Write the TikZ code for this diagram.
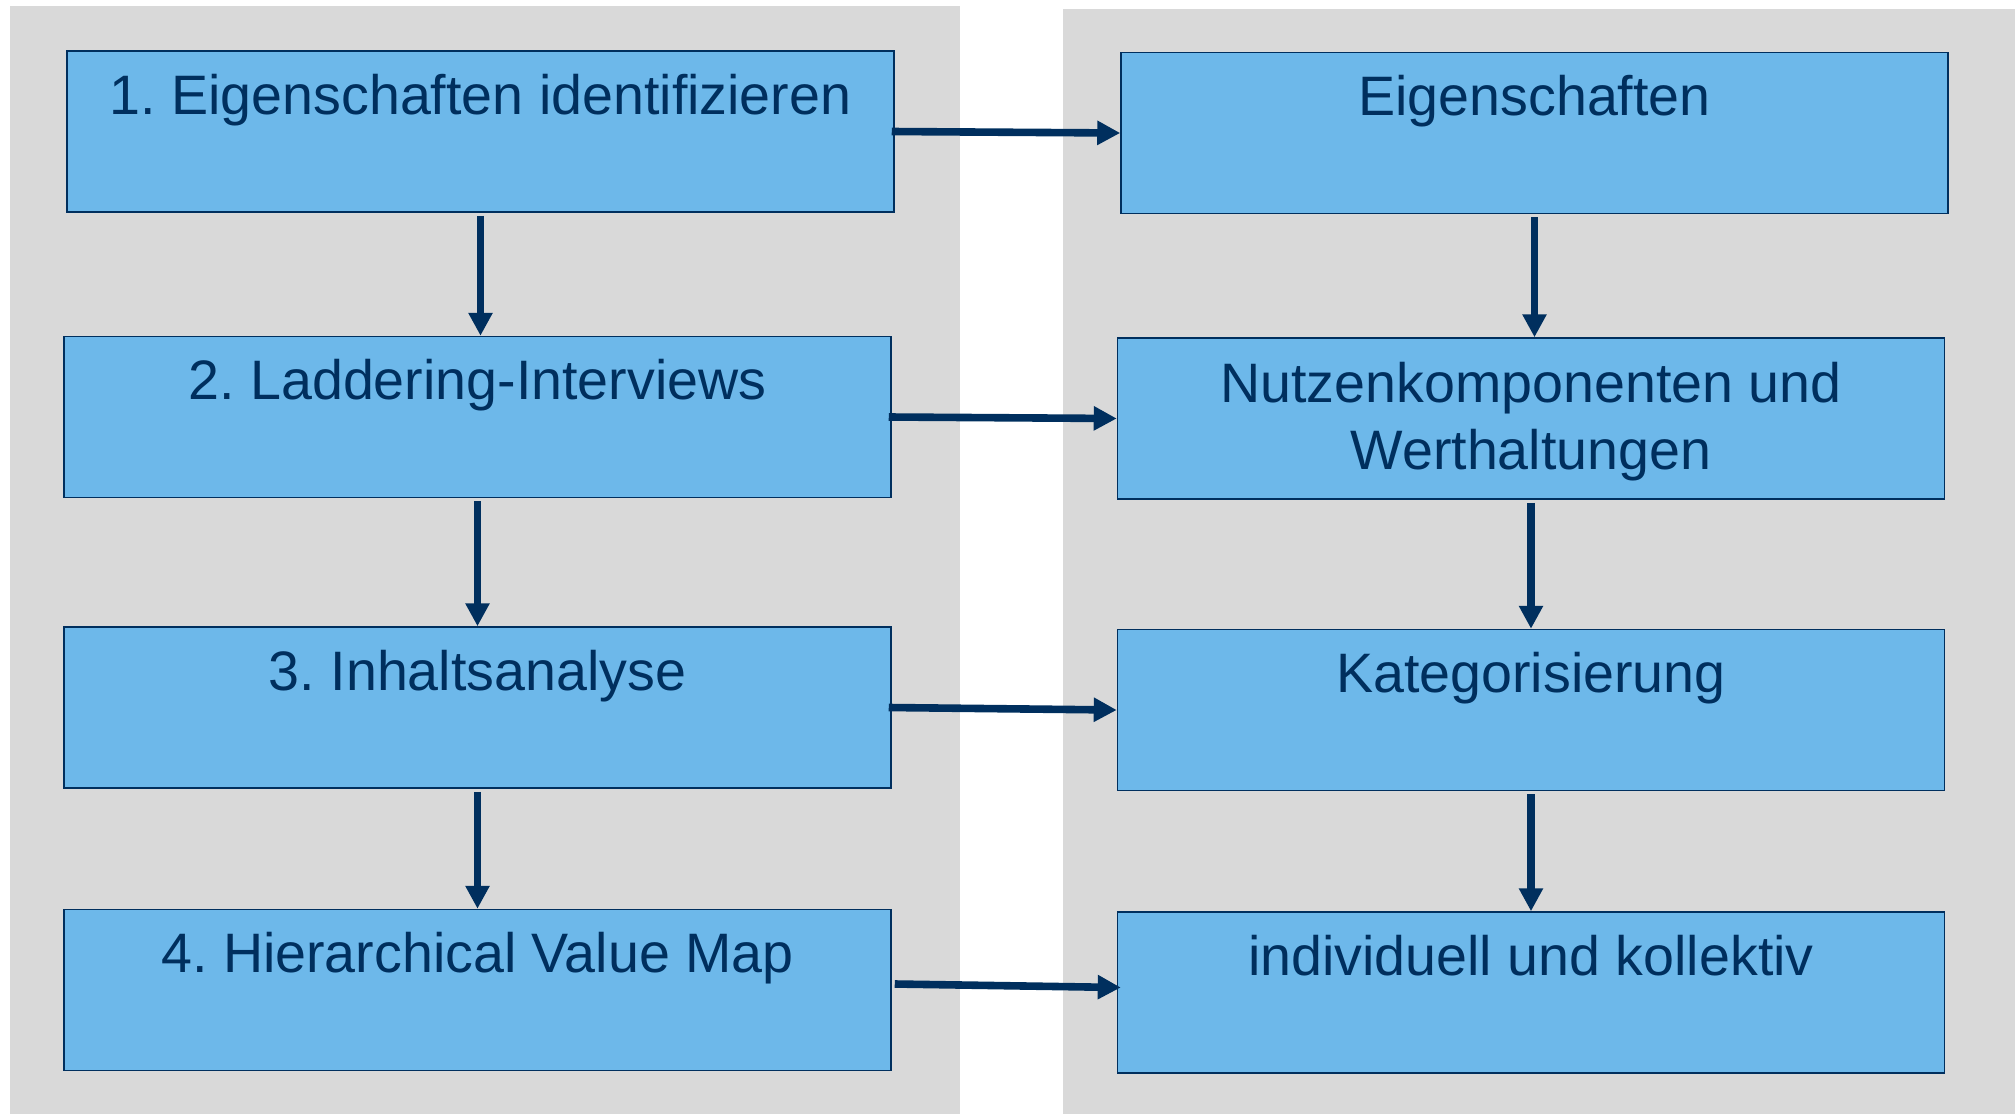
\documentclass[tikz,border=0pt]{standalone}
\usepackage{fontspec}
\setmainfont{Liberation Sans}
\usetikzlibrary{arrows.meta}
\frenchspacing

\definecolor{navy}{RGB}{0,47,94}
\definecolor{boxblue}{RGB}{109,184,234}
\definecolor{panelgray}{RGB}{217,217,217}

\tikzset{
  panel/.style={fill=panelgray},
  stepbox/.style={draw=navy, line width=0.75pt, fill=boxblue, inner sep=0pt,
    minimum width=413.5pt, minimum height=80.5pt},
  lbl/.style={text=navy, font=\fontsize{27.8pt}{33.5pt}\selectfont, inner sep=0pt, anchor=base},
  flow/.style={draw=navy, line width=3.8pt, -{Triangle[length=11.5pt,width=11.5pt]}}
}

\begin{document}
\begin{tikzpicture}[x=0.5pt, y=-0.5pt]
\useasboundingbox (0,0) rectangle (2015,1114);

% two grey columns
\fill[panel] (10,6) rectangle (960,1114);
\fill[panel] (1063,9) rectangle (2015,1114);

% left column: procedure steps
\node[stepbox] (b1) at (480.5,131.5) {};
\node[stepbox] (b2) at (477.5,417) {};
\node[stepbox] (b3) at (477.5,707.5) {};
\node[stepbox] (b4) at (477.5,990) {};

% right column: results
\node[stepbox] (r1) at (1534.5,133) {};
\node[stepbox] (r2) at (1531,418.5) {};
\node[stepbox] (r3) at (1531,710) {};
\node[stepbox] (r4) at (1531,992.5) {};

% box captions
\node[lbl] (t1) at ([yshift=-32pt]b1.north) {1. Eigenschaften identifizieren};
\node[lbl] (t2) at ([yshift=-32pt]b2.north) {2. Laddering-Interviews};
\node[lbl] (t3) at ([yshift=-32pt]b3.north) {3. Inhaltsanalyse};
\node[lbl] (t4) at ([yshift=-32pt]b4.north) {4. Hierarchical Value Map};
\node[lbl] (u1) at ([yshift=-32pt]r1.north) {Eigenschaften};
\node[lbl] (u2a) at ([yshift=-32.5pt]r2.north) {Nutzenkomponenten und};
\node[lbl] (u2b) at ([yshift=-33.5pt]u2a.base) {Werthaltungen};
\node[lbl] (u3) at ([yshift=-32pt]r3.north) {Kategorisierung};
\node[lbl] (u4) at ([yshift=-32pt]r4.north) {individuell und kollektiv};

% vertical flow
\draw[flow] ([yshift=-1.5pt]b1.south) -- (b1.south |- b2.north);
\draw[flow] ([yshift=-1.5pt]b2.south) -- (b2.south |- b3.north);
\draw[flow] ([yshift=-1.5pt]b3.south) -- (b3.south |- b4.north);
\draw[flow] ([yshift=-1.5pt]r1.south) -- (r1.south |- r2.north);
\draw[flow] ([yshift=-1.5pt]r2.south) -- (r2.south |- r3.north);
\draw[flow] ([yshift=-1.5pt]r3.south) -- (r3.south |- r4.north);

% horizontal links
\draw[flow] ([xshift=-1.5pt]b1.east) -- (r1.west);
\draw[flow] ([xshift=-1.5pt]b2.east) -- (r2.west);
\draw[flow] ([xshift=-1.5pt]b3.east) -- (r3.west);
\draw[flow] ([xshift=1.5pt,yshift=3pt]b4.east) -- ([xshift=2pt,yshift=2.5pt]r4.west);
\end{tikzpicture}
\end{document}
